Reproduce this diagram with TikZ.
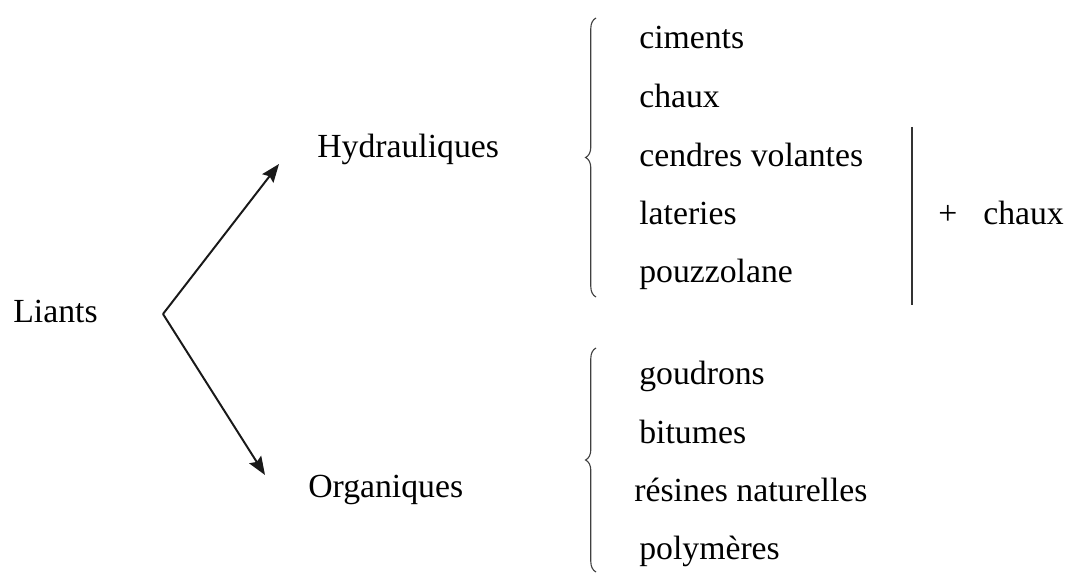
\documentclass[tikz,border=0pt]{standalone}
\usepackage{fontspec}
\setmainfont{Liberation Serif}
\usetikzlibrary{arrows.meta,decorations.pathreplacing}

\tikzset{
  word/.style={inner sep=0pt,anchor=base west,font=\fontsize{24}{28}\selectfont},
  bracket/.style={decorate,decoration={brace,amplitude=0.26cm},line width=0.8pt,draw=black!75},
  branch/.style={line width=1.4pt,draw=black!90,-{Stealth[length=13pt,width=10pt,inset=2pt]}}
}

\begin{document}
\begin{tikzpicture}

\useasboundingbox (0,0) rectangle (26.725,-14.325);

% the two families of binders
\node[word] (liants) at (0.325,-8.075) {Liants};
\node[word] (hydr) at (7.925,-3.95) {Hydrauliques};
\node[word] (orga) at (7.7,-12.425) {Organiques};

\coordinate (split) at (4.075,-7.85);
\coordinate (hydrtip) at (6.975,-4.1);
\coordinate (orgatip) at (6.625,-11.875);

\draw [branch] (split) -- (hydrtip);
\draw [branch] (split) -- (orgatip);

% hydraulic binders
\coordinate (hbot) at (14.9,-7.425);
\coordinate (htop) at (14.9,-0.45);
\draw [bracket] (hbot) -- (htop);

\node[word] (ciments) at (15.975,-1.225) {ciments};
\node[word] (chaux) at (15.975,-2.7) {chaux};
\node[word] (cendres) at (15.975,-4.175) {cendres volantes};
\node[word] (lateries) at (15.975,-5.625) {lateries};
\node[word] (pouzz) at (15.975,-7.075) {pouzzolane};

% the last three only with lime added
\coordinate (vtop) at (22.8,-3.175);
\coordinate (vbot) at (22.8,-7.625);
\draw [line width=0.9pt,draw=black!80] (vtop) -- (vbot);

\node[word] (plus) at (23.45,-5.625) {+};
\node[word] (addchaux) at (24.575,-5.625) {chaux};

% organic binders
\coordinate (obot) at (14.9,-14.3);
\coordinate (otop) at (14.9,-8.7);
\draw [bracket] (obot) -- (otop);

\node[word] (goudrons) at (15.975,-9.6) {goudrons};
\node[word] (bitumes) at (15.975,-11.075) {bitumes};
\node[word] (resines) at (15.85,-12.525) {résines naturelles};
\node[word] (polym) at (15.975,-13.975) {polymères};

\end{tikzpicture}
\end{document}
